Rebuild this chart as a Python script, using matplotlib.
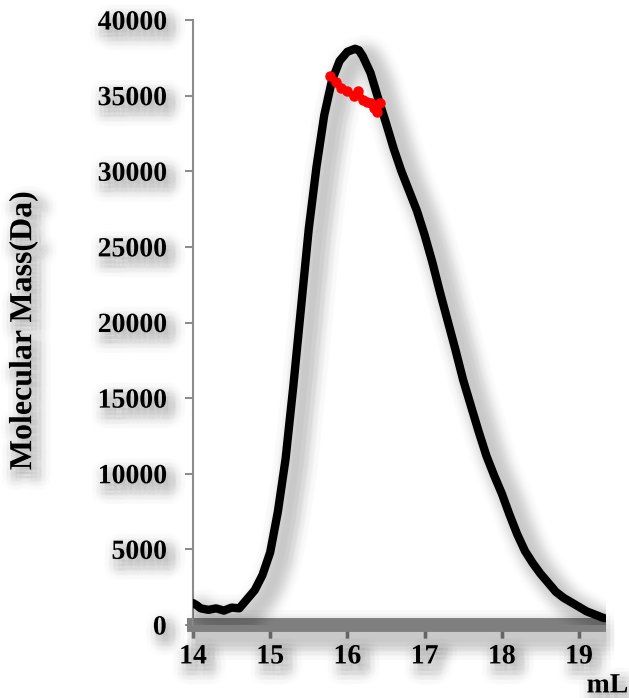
import numpy as np
import matplotlib.pyplot as plt
import matplotlib.patheffects as pe

# elution volume (mL) vs molecular mass (Da)
vol = [14.00, 14.05, 14.1, 14.2, 14.3, 14.4, 14.5, 14.6, 14.7, 14.8, 14.9,
       15.0, 15.1, 15.2, 15.3, 15.4, 15.5, 15.6, 15.7, 15.8, 15.9,
       16.0, 16.1, 16.15, 16.2, 16.3, 16.4, 16.5, 16.6, 16.7, 16.8, 16.9,
       17.0, 17.1, 17.2, 17.3, 17.4, 17.5, 17.6, 17.7, 17.8, 17.9,
       18.0, 18.1, 18.2, 18.3, 18.4, 18.5, 18.6, 18.7, 18.8, 18.9,
       19.0, 19.1, 19.2, 19.3, 19.33]
signal = [1450, 1300, 1100, 1000, 1100, 950, 1150, 1100, 1700, 2300, 3300,
          4800, 7500, 11000, 15800, 21000, 26200, 30300, 33700, 36000, 37300,
          37900, 38100, 38000, 37600, 36500, 34800, 33200, 31500, 30000, 28700, 27400,
          25800, 24000, 22000, 20100, 18200, 16200, 14500, 12800, 11200, 9900,
          8700, 7300, 6000, 4900, 4100, 3400, 2800, 2200, 1800, 1500,
          1200, 900, 700, 500, 450]

# molar mass points across the peak
mm_vol = [15.78, 15.85, 15.92, 16.0, 16.08, 16.14, 16.2, 16.26, 16.3, 16.35, 16.38, 16.42]
mm_val = [36300, 35900, 35500, 35300, 35000, 35300, 34700, 34600, 34500, 34200, 33900, 34500]

xticks = [14, 15, 16, 17, 18, 19]
yticks = [0, 5000, 10000, 15000, 20000, 25000, 30000, 35000, 40000]

plt.rcParams['font.family'] = 'Liberation Serif'
plt.rcParams['font.weight'] = 'bold'

# fake a soft (blurred) drop shadow: many faint copies on a small grid of offsets
def line_shadow(lw, cx=7, cy=-6, alpha=0.008):
    fx = []
    for w in [lw + 20, lw + 12, lw + 5]:
        for dx in [-3, 0, 3]:
            for dy in [-3, 0, 3]:
                fx.append(pe.SimpleLineShadow(offset=(cx + dx, cy + dy), shadow_color='k',
                                              alpha=alpha, linewidth=w))
    fx.append(pe.Normal())
    return fx

def text_shadow(cx=4, cy=-5, alpha=0.008):
    fx = []
    for w in [14, 7]:
        for dx in [-3, 0, 3]:
            for dy in [-3, 0, 3]:
                fx.append(pe.Stroke(offset=(cx + dx, cy + dy), linewidth=w,
                                    foreground='k', alpha=alpha))
    fx.append(pe.Normal())
    return fx

fig = plt.figure(figsize=(6.29, 6.98), dpi=100)
ax = fig.add_axes([0.3068, 0.1046, 0.6566, 0.8667])

ax.plot(vol, signal, color='k', lw=6, solid_capstyle='round', solid_joinstyle='round',
        path_effects=line_shadow(6), zorder=3)
ax.plot(mm_vol, mm_val, color='red', lw=4.5, marker='o', ms=6.5, mec='red', mfc='red',
        zorder=4)

# thick grey x-axis bar
ax.plot([13.92, 19.35], [0, 0], color='#7f7f7f', lw=10, solid_capstyle='butt',
        clip_on=False, zorder=2, path_effects=line_shadow(10, 3, -7))

ax.set_xlim(14, 19.35)
ax.set_ylim(0, 40000)
ax.set_xticks(xticks)
ax.set_yticks(yticks)

for s in ['top', 'right', 'bottom']:
    ax.spines[s].set_visible(False)
ax.spines['left'].set_color('#8c8c8c')
ax.spines['left'].set_linewidth(1.5)

ax.tick_params(axis='y', length=6, width=1.5, color='#8c8c8c', pad=13, labelsize=20)
ax.tick_params(axis='x', length=9, width=2.5, color='#7f7f7f', pad=5, labelsize=20)
for lab in ax.get_xticklabels() + ax.get_yticklabels():
    lab.set_fontweight('bold')
    lab.set_path_effects(text_shadow())

ax.set_ylabel('Molecular Mass(Da)', fontsize=23, fontweight='bold')
ax.yaxis.set_label_coords(-0.375, 0.487)
ax.yaxis.label.set_path_effects(text_shadow())

fig.text(0.999, 0.008, 'mL', fontsize=20, fontweight='bold', ha='right', va='baseline',
         path_effects=text_shadow())

fig.savefig('out.png', dpi=100, facecolor='white')
